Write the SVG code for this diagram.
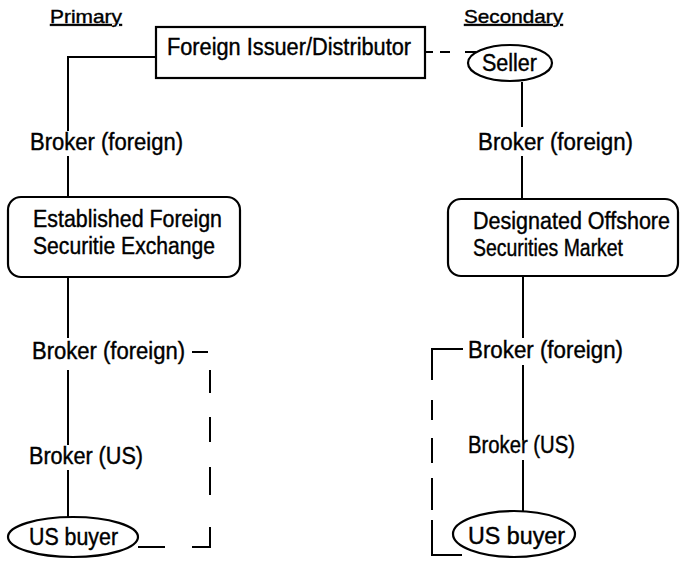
<svg xmlns="http://www.w3.org/2000/svg" width="682" height="561" viewBox="0 0 682 561">
<style>
text{font-family:"Liberation Sans",Arial,sans-serif;font-size:23px;fill:#000;stroke:#000;stroke-width:0.4}
.hd{font-size:19px;text-decoration:underline}
.sh{fill:#fff;stroke:#000;stroke-width:2.2}
.ln{fill:none;stroke:#000;stroke-width:2}
</style>
<rect width="682" height="561" fill="#fff"/>
<g id="connectors">
<path class="ln" d="M156,57 H68 V131 M68,156 V197 M68,278 V338 M68,370 V445 M68,470 V517"/>
<path class="ln" d="M522,82 V127 M522,156 V199 M523,276 V338 M523,365 V440 M523,460 V511"/>
<path class="ln" d="M426,52 H433 M440,52 H450 M465,52 H476"/>
<path class="ln" d="M192,352 H208 M210,370 V393 M210,417 V442 M210,467 V495 M210,527 V547 H192 M165,547 H138"/>
<path class="ln" d="M463,349 H432 V380 M432,400 V420 M432,438 V463 M432,478 V510 M432,520 V555 H462"/>
</g>
<g id="label-primary"><text class="hd" x="50" y="23" textLength="72" lengthAdjust="spacingAndGlyphs">Primary</text></g>
<g id="label-secondary"><text class="hd" x="464" y="23" textLength="99" lengthAdjust="spacingAndGlyphs">Secondary</text></g>
<g id="issuer">
<rect class="sh" x="156" y="27" width="269" height="51"/>
<text x="167" y="55" textLength="244" lengthAdjust="spacingAndGlyphs">Foreign Issuer/Distributor</text>
</g>
<g id="seller">
<ellipse class="sh" cx="510" cy="63" rx="42" ry="18"/>
<text x="482" y="71" textLength="55" lengthAdjust="spacingAndGlyphs">Seller</text>
</g>
<g id="broker-foreign-1"><text x="30" y="150" textLength="153" lengthAdjust="spacingAndGlyphs">Broker (foreign)</text></g>
<g id="broker-foreign-2"><text x="478" y="150" textLength="155" lengthAdjust="spacingAndGlyphs">Broker (foreign)</text></g>
<g id="exchange">
<rect class="sh" x="8" y="197" width="232" height="80" rx="13"/>
<text x="33" y="227" textLength="189" lengthAdjust="spacingAndGlyphs">Established Foreign</text>
<text x="33" y="254" textLength="182" lengthAdjust="spacingAndGlyphs">Securitie Exchange</text>
</g>
<g id="market">
<rect class="sh" x="448" y="199" width="230" height="77" rx="13"/>
<text x="473" y="229" textLength="197" lengthAdjust="spacingAndGlyphs">Designated Offshore</text>
<text x="473" y="256" textLength="150" lengthAdjust="spacingAndGlyphs">Securities Market</text>
</g>
<g id="broker-foreign-3"><text x="32" y="359" textLength="153" lengthAdjust="spacingAndGlyphs">Broker (foreign)</text></g>
<g id="broker-foreign-4"><text x="468" y="358" textLength="155" lengthAdjust="spacingAndGlyphs">Broker (foreign)</text></g>
<g id="broker-us-1"><text x="29" y="464" textLength="114" lengthAdjust="spacingAndGlyphs">Broker (US)</text></g>
<g id="broker-us-2"><text x="468" y="453" textLength="107" lengthAdjust="spacingAndGlyphs">Broker (US)</text></g>
<g id="buyer-1">
<ellipse class="sh" cx="73" cy="537" rx="65" ry="20"/>
<text x="29" y="545" textLength="89" lengthAdjust="spacingAndGlyphs">US buyer</text>
</g>
<g id="buyer-2">
<ellipse class="sh" cx="514" cy="534" rx="61" ry="23"/>
<text x="468" y="544" textLength="97" lengthAdjust="spacingAndGlyphs">US buyer</text>
</g>
</svg>
